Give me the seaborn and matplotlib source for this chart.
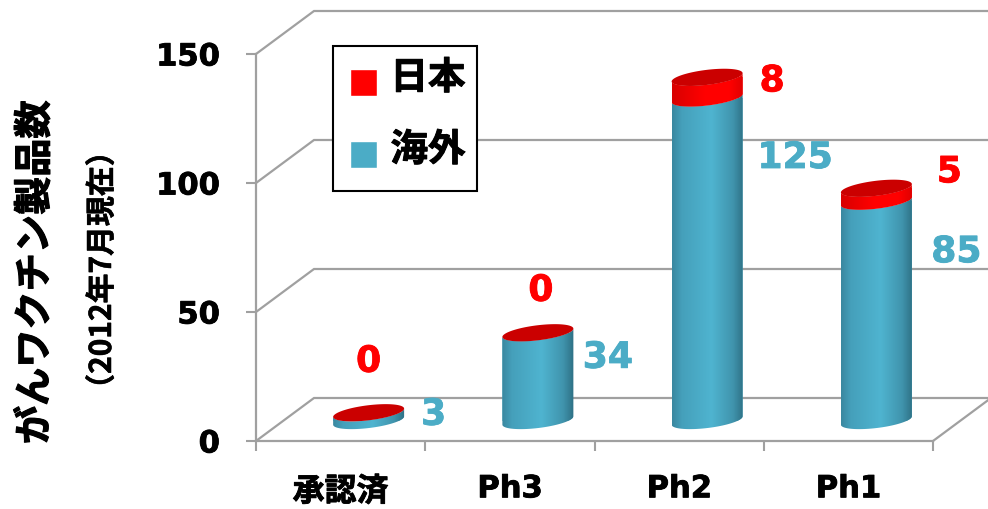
import numpy as np
import matplotlib
matplotlib.use("Agg")
import matplotlib.pyplot as plt
import matplotlib.patheffects as pe
import seaborn as sns
from matplotlib.colors import LinearSegmentedColormap
from matplotlib.font_manager import FontProperties
from matplotlib.patches import Patch, PathPatch, Polygon
from matplotlib.path import Path
from matplotlib.transforms import Affine2D

stages = ["承認済", "Ph3", "Ph2", "Ph1"]
overseas = [3, 34, 125, 85]
japan = [0, 0, 8, 5]
y_ticks = [0, 50, 100, 150]

# Value label offsets from the top of each cylinder, in pixels
japan_label_offset = [(0, 51), (3, 42), (65, -4), (73, 16)]
overseas_label_offset = [(65, -2), (70, -25), (88, -60), (80, -51)]

RED = "#FF0000"
BLUE = "#4BACC6"
GREY = "#A0A0A0"
CJK = "Noto Sans CJK JP"

sns.set_theme(style="white")
plt.rcParams["font.family"] = [CJK, "DejaVu Sans"]

W, H = 988, 509
fig = plt.figure(figsize=(W / 100, H / 100), dpi=100, facecolor="white")
ax = fig.add_axes([256 / W, 1 - 441 / H, 677 / W, 387 / H])
ax.patch.set_alpha(0)


def heavy(text, width=0.6, color="black"):
    """Thicken a text with an outline of its own colour."""
    text.set_path_effects([pe.withStroke(linewidth=width, foreground=color)])


# Stacked bars give the cylinder bodies their extents
bar_width = 0.42
stack = np.array(overseas)
sns.barplot(x=stages, y=overseas, color=BLUE, width=bar_width, ax=ax, saturation=1, linewidth=0, zorder=3)
n_blue = len(ax.patches)
sns.barplot(x=stages, y=japan, bottom=stack, color=RED, width=bar_width, ax=ax, saturation=1, linewidth=0, zorder=3)
ax.set_xlim(-0.5, 3.5)
ax.set_ylim(0, 150)

px_x = 677 / 4    # pixels per category
px_y = 387 / 150  # pixels per unit

# Floor offset of the cylinders and of the back wall, in data units
base_dx, base_dy = 28 / px_x, 20.5 / px_y
wall_dx, wall_dy = 58 / px_x, 43 / px_y

# Back wall and floor of the fake 3D box
for v in y_ticks:
    ax.plot([-0.5, -0.5 + wall_dx, 3.5 + wall_dx], [v, v + wall_dy, v + wall_dy],
            color=GREY, lw=1.6, clip_on=False, zorder=1, solid_joinstyle="miter")
ax.plot([3.5, 3.5 + wall_dx], [0, wall_dy], color=GREY, lw=1.6, clip_on=False, zorder=1)

# Ellipse in pixel shape, returned in data units
SEMI_A = bar_width * px_x / 2 + 0.2
SEMI_B = 7.5
TILT = np.radians(7)


def ellipse(cx, cy, t):
    ex = SEMI_A * np.cos(t) * np.cos(TILT) - SEMI_B * np.sin(t) * np.sin(TILT)
    ey = SEMI_A * np.cos(t) * np.sin(TILT) + SEMI_B * np.sin(t) * np.cos(TILT)
    return np.column_stack([cx + ex / px_x, cy + ey / px_y])


t0 = np.arctan(-(SEMI_B / SEMI_A) * np.tan(TILT))
lower = np.linspace(np.pi + t0, 2 * np.pi + t0, 60)
full = np.linspace(0, 2 * np.pi, 120)

blue_shade = LinearSegmentedColormap.from_list(
    "blue_shade", [(0, "#3A879F"), (0.14, "#45A0BB"), (0.55, "#4FB4D0"), (0.85, "#4094AD"), (1, "#2E7084")])
red_shade = LinearSegmentedColormap.from_list(
    "red_shade", [(0, "#D80000"), (0.45, "#FF0000"), (0.8, "#FF0000"), (1, "#DE0000")])
ramp = np.linspace(0, 1, 256)[None, :]


def shade_side(bar, cmap, zorder):
    """Shift a bar onto the floor and paint it as a shaded cylinder side."""
    x0 = bar.get_x() + base_dx
    x1 = x0 + bar.get_width()
    cx = (x0 + x1) / 2
    y0 = bar.get_y() + base_dy
    y1 = y0 + bar.get_height()
    outline = np.vstack([ellipse(cx, y0, lower), ellipse(cx, y1, lower)[::-1]])
    clip = PathPatch(Path(np.vstack([outline, outline[:1]])), transform=ax.transData)
    bar.set_transform(Affine2D().translate(base_dx, base_dy) + ax.transData)
    bar.set_clip_path(clip)
    img = ax.imshow(ramp, cmap=cmap, aspect="auto", extent=[x0, x1, y0 - 12, y1 + 12],
                    interpolation="bilinear", zorder=zorder)
    img.set_clip_path(clip)


for i, bar in enumerate(ax.patches):
    if bar.get_height() > 0:
        is_blue = i < n_blue
        shade_side(bar, blue_shade if is_blue else red_shade, 3.2 if is_blue else 3.4)

totals = stack + np.array(japan)
centers = np.arange(len(stages)) + base_dx
for cx, total in zip(centers, totals):
    ax.add_patch(Polygon(ellipse(cx, total + base_dy, full), closed=True,
                         facecolor="#CB0000", edgecolor="none", zorder=3.6))

ax.set_xlim(-0.5, 3.5)
ax.set_ylim(0, 150)

# Axes, ticks and tick labels
for side in ("top", "right"):
    ax.spines[side].set_visible(False)
for side in ("left", "bottom"):
    ax.spines[side].set_color(GREY)
    ax.spines[side].set_linewidth(1.6)
    ax.spines[side].set_zorder(2)

ax.set_yticks(y_ticks)
ax.set_yticklabels([str(v) for v in y_ticks], family="DejaVu Sans", weight="bold", fontsize=22, color="black")
ax.tick_params(axis="y", which="major", left=True, length=7, width=1.5, color=GREY, pad=19)
for tick in ax.get_yticklabels():
    heavy(tick)

ax.set_xticks(range(len(stages)))
ax.set_xticklabels(stages)
ax.set_xticks(np.arange(-0.5, 4), minor=True)
ax.tick_params(axis="x", which="minor", bottom=True, length=7.5, width=1.5, color=GREY)
ax.tick_params(axis="x", which="major", bottom=False, length=0, pad=24)
for tick, name in zip(ax.get_xticklabels(), stages):
    if name.isascii():
        tick.set_fontproperties(FontProperties(family="DejaVu Sans", weight="bold", size=22))
    else:
        tick.set_fontproperties(FontProperties(family=CJK, weight="bold", size=23))
        tick.set_y(-0.004)
    tick.set_color("black")
    heavy(tick)

ax.set_xlabel("")
ax.set_ylabel("がんワクチン製品数", fontproperties=FontProperties(family=CJK, weight="bold", size=27.5),
              color="black", va="center")
ax.yaxis.set_label_coords(-221 / 677, 169 / 387)
heavy(ax.yaxis.label, 0.8)
note = ax.text(-154 / 677, 171 / 387, "（2012年7月現在）", transform=ax.transAxes, rotation=90, ha="center", va="center",
               fontproperties=FontProperties(family=CJK, weight="bold", size=21.5), color="black")
heavy(note, 0.4)

# Value labels
label_font = dict(family="DejaVu Sans", weight="bold", fontsize=26, ha="center", va="center", zorder=6)
for i, cx in enumerate(centers):
    red_label = ax.annotate(str(japan[i]), (cx, totals[i] + base_dy), xytext=japan_label_offset[i],
                            textcoords="offset pixels", color=RED, annotation_clip=False, **label_font)
    blue_label = ax.annotate(str(overseas[i]), (cx, overseas[i] + base_dy), xytext=overseas_label_offset[i],
                             textcoords="offset pixels", color=BLUE, annotation_clip=False, **label_font)
    heavy(red_label, 0.6, RED)
    heavy(blue_label, 0.6, BLUE)

# Legend
handles = [Patch(facecolor=RED, label="日本"), Patch(facecolor=BLUE, label="海外")]
legend = ax.legend(handles=handles, loc="upper left", bbox_to_anchor=(333 / W, 1 - 46 / H),
                   bbox_transform=fig.transFigure, borderaxespad=0, fancybox=False, framealpha=1,
                   edgecolor="black", facecolor="white",
                   prop=FontProperties(family=CJK, weight="bold", size=27),
                   handlelength=0.72, handleheight=0.72, handletextpad=0.23, labelspacing=0.88,
                   borderpad=0.45, labelcolor="black")
legend.get_frame().set_linewidth(1.5)
legend.set_zorder(5)
for text in legend.get_texts():
    text.set_x(5)
    text.set_y(5)
    heavy(text, 0.7)
for swatch in legend.legend_handles:
    swatch.set_y(swatch.get_y() - 1)

fig.savefig("out.png", dpi=100, facecolor="white")
